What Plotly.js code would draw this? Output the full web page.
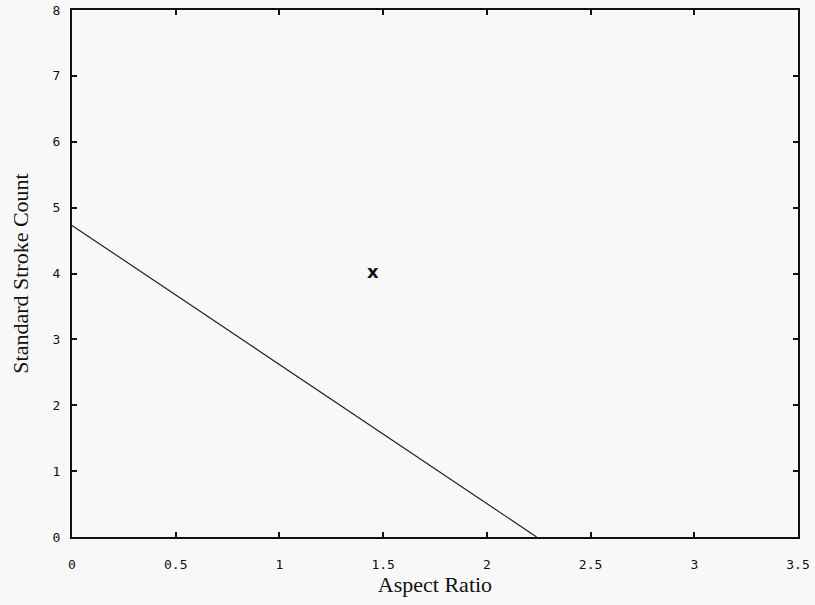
<!DOCTYPE html>
<html><head><meta charset="utf-8">
<script src="https://cdn.plot.ly/plotly-3.0.1.min.js"></script>
<style>body{margin:0;background:#f8f8f8}</style>
</head><body><div id="chart" style="width:815px;height:605px"></div>
<script>
const lineX = [0, 2.24];
const lineY = [4.73, 0];
const pointX = [1.45];
const pointY = [4.0];
const xTicks = [0, 0.5, 1, 1.5, 2, 2.5, 3, 3.5];
const xTickText = ['0', '0.5', '1', '1.5', '2', '2.5', '3', '3.5'];
const yTicks = [0, 1, 2, 3, 4, 5, 6, 7, 8];

const tickFont = {family: 'DejaVu Sans Mono, monospace', size: 13, color: '#111'};
const axisCommon = {
  showgrid: false, zeroline: false, showline: true, linecolor: '#111', linewidth: 2,
  mirror: 'ticks', ticks: 'inside', ticklen: 5, tickwidth: 2, tickcolor: '#111',
  tickfont: tickFont
};
const data = [
  {x: lineX, y: lineY, mode: 'lines', line: {color: '#222', width: 1.2}, hoverinfo: 'none'},
  {x: pointX, y: pointY, mode: 'text', text: ['x'], textposition: 'middle center',
   textfont: {family: 'DejaVu Sans', size: 18, color: '#111', weight: 'bold'}, hoverinfo: 'none'}
];
const layout = {
  width: 815, height: 605, showlegend: false,
  paper_bgcolor: '#f8f8f8', plot_bgcolor: '#f8f8f8',
  margin: {l: 72, r: 17, t: 10, b: 68},
  xaxis: Object.assign({}, axisCommon, {range: [0, 3.5], tickvals: xTicks, ticktext: xTickText,
    ticklabelstandoff: 14,
    title: {text: 'Aspect Ratio', font: {family: 'Liberation Serif, Times New Roman, serif', size: 22, color: '#111'}, standoff: 4}}),
  yaxis: Object.assign({}, axisCommon, {range: [0, 8], tickvals: yTicks,
    ticklabelstandoff: 7,
    title: {text: 'Standard Stroke Count', font: {family: 'Liberation Serif, Times New Roman, serif', size: 22, color: '#111'}, standoff: 18}})
};
Plotly.newPlot('chart', data, layout, {displayModeBar: false, staticPlot: true});
</script></body></html>
